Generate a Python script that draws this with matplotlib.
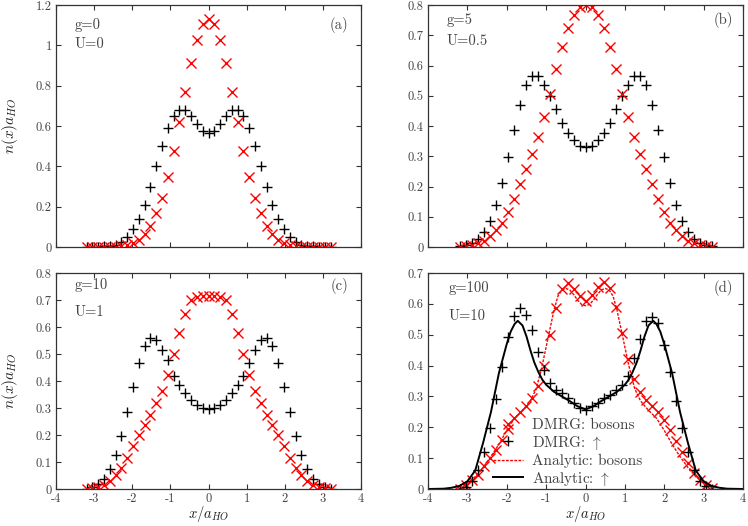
import numpy as np
import matplotlib
matplotlib.use("Agg")
import matplotlib.pyplot as plt

plt.rcParams['font.family'] = ['cmr10', 'DejaVu Serif']
plt.rcParams['mathtext.fontset'] = 'cm'
plt.rcParams['axes.formatter.use_mathtext'] = True
plt.rcParams['axes.unicode_minus'] = False

# lattice sites (43 sites)
x_sites = np.linspace(-3.2, 3.2, 43)

# panel (a) g=0, U=0
a_up = [0.0, 0.0, 0.001, 0.003, 0.006, 0.012, 0.025, 0.05, 0.09, 0.14, 0.21, 0.30, 0.40, 0.50, 0.59, 0.65,
        0.68, 0.68, 0.65, 0.61, 0.575, 0.565, 0.575, 0.61, 0.65, 0.68, 0.68, 0.65, 0.59, 0.50, 0.40, 0.30,
        0.21, 0.14, 0.09, 0.05, 0.025, 0.012, 0.006, 0.003, 0.001, 0.0, 0.0]
a_bos = [0.0, 0.0, 0.0, 0.0, 0.001, 0.002, 0.004, 0.009, 0.018, 0.035, 0.062, 0.104, 0.167, 0.245, 0.349,
         0.478, 0.618, 0.77, 0.91, 1.026, 1.105, 1.13, 1.105, 1.026, 0.91, 0.77, 0.618, 0.478, 0.349, 0.245,
         0.167, 0.104, 0.062, 0.035, 0.018, 0.009, 0.004, 0.002, 0.001, 0.0, 0.0, 0.0, 0.0]

# panel (b) g=5, U=0.5
b_up = [0.002, 0.005, 0.012, 0.025, 0.05, 0.086, 0.14, 0.212, 0.296, 0.387, 0.47, 0.535, 0.565, 0.565,
        0.537, 0.50, 0.455, 0.41, 0.378, 0.355, 0.335, 0.33, 0.335, 0.355, 0.378, 0.41, 0.455, 0.50, 0.537,
        0.565, 0.565, 0.535, 0.47, 0.387, 0.296, 0.212, 0.14, 0.086, 0.05, 0.025, 0.012, 0.005, 0.002]
b_bos = [0.001, 0.003, 0.006, 0.012, 0.02, 0.035, 0.055, 0.08, 0.117, 0.158, 0.209, 0.257, 0.307, 0.365,
         0.43, 0.505, 0.587, 0.662, 0.725, 0.768, 0.792, 0.80, 0.792, 0.768, 0.725, 0.662, 0.587, 0.505,
         0.43, 0.365, 0.307, 0.257, 0.209, 0.158, 0.117, 0.08, 0.055, 0.035, 0.02, 0.012, 0.006, 0.003, 0.001]

# panel (c) g=10, U=1
c_up = [0.001, 0.006, 0.017, 0.038, 0.075, 0.127, 0.197, 0.285, 0.377, 0.467, 0.528, 0.56, 0.553, 0.516,
        0.478, 0.42, 0.386, 0.355, 0.33, 0.31, 0.30, 0.295, 0.30, 0.31, 0.33, 0.355, 0.386, 0.42, 0.467,
        0.516, 0.553, 0.56, 0.528, 0.467, 0.377, 0.285, 0.197, 0.127, 0.075, 0.038, 0.017, 0.006, 0.001]
c_bos = [0.001, 0.003, 0.007, 0.016, 0.028, 0.053, 0.078, 0.115, 0.158, 0.20, 0.238, 0.275, 0.318, 0.362,
         0.423, 0.50, 0.578, 0.647, 0.70, 0.712, 0.714, 0.714, 0.714, 0.712, 0.70, 0.647, 0.578, 0.50,
         0.423, 0.362, 0.318, 0.275, 0.238, 0.20, 0.158, 0.115, 0.078, 0.053, 0.028, 0.016, 0.007, 0.003, 0.001]

# panel (d) g=100, U=10
d_up = [0.0, 0.008, 0.025, 0.063, 0.12, 0.198, 0.292, 0.394, 0.492, 0.56, 0.587, 0.565, 0.516, 0.444,
        0.387, 0.343, 0.322, 0.311, 0.295, 0.279, 0.262, 0.257, 0.268, 0.279, 0.295, 0.306, 0.322, 0.337,
        0.365, 0.425, 0.485, 0.543, 0.556, 0.538, 0.468, 0.38, 0.284, 0.197, 0.121, 0.062, 0.025, 0.009, 0.0]
d_bos = [0.0, 0.012, 0.03, 0.045, 0.073, 0.10, 0.127, 0.16, 0.195, 0.23, 0.25, 0.268, 0.295, 0.333, 0.40,
         0.50, 0.587, 0.648, 0.667, 0.648, 0.625, 0.61, 0.63, 0.655, 0.672, 0.65, 0.59, 0.505, 0.42, 0.355,
         0.315, 0.288, 0.268, 0.248, 0.225, 0.19, 0.155, 0.12, 0.085, 0.052, 0.03, 0.012, 0.002]

# analytic curves for (d)
an_bos_x = [-3.3, -3.0, -2.8, -2.6, -2.4, -2.2, -2.0, -1.8, -1.6, -1.4, -1.25, -1.1, -1.0, -0.9, -0.8,
            -0.7, -0.6, -0.5, -0.4, -0.3, -0.2, -0.1, 0.0, 0.1, 0.2, 0.3, 0.4, 0.5, 0.6, 0.7, 0.8, 0.9,
            1.0, 1.1, 1.25, 1.4, 1.6, 1.8, 2.0, 2.2, 2.4, 2.6, 2.8, 3.0, 3.3]
an_bos_y = [0.0, 0.02, 0.04, 0.07, 0.105, 0.145, 0.19, 0.23, 0.255, 0.285, 0.325, 0.40, 0.46, 0.52, 0.58,
            0.625, 0.645, 0.65, 0.645, 0.63, 0.612, 0.598, 0.594, 0.598, 0.612, 0.63, 0.645, 0.65, 0.645,
            0.625, 0.58, 0.52, 0.46, 0.40, 0.325, 0.285, 0.255, 0.23, 0.19, 0.145, 0.105, 0.07, 0.04, 0.02, 0.0]
an_up_x = [-4.0, -3.6, -3.4, -3.2, -3.0, -2.8, -2.6, -2.4, -2.2, -2.0, -1.9, -1.8, -1.72, -1.6, -1.5, -1.4,
           -1.3, -1.2, -1.1, -1.0, -0.8, -0.6, -0.4, -0.2, 0.0, 0.2, 0.4, 0.6, 0.8, 1.0, 1.1, 1.2, 1.3, 1.4,
           1.5, 1.6, 1.72, 1.8, 1.9, 2.0, 2.2, 2.4, 2.6, 2.8, 3.0, 3.2, 3.4, 3.6, 4.0]
an_up_y = [0.0, 0.001, 0.004, 0.01, 0.025, 0.06, 0.15, 0.25, 0.375, 0.47, 0.51, 0.535, 0.545, 0.53, 0.495,
           0.45, 0.41, 0.38, 0.355, 0.338, 0.315, 0.30, 0.285, 0.268, 0.258, 0.268, 0.285, 0.30, 0.315,
           0.338, 0.355, 0.38, 0.41, 0.45, 0.495, 0.53, 0.545, 0.535, 0.51, 0.47, 0.375, 0.25, 0.15, 0.06,
           0.025, 0.01, 0.004, 0.001, 0.0]

panels = [
    dict(up=a_up, bos=a_bos, ymax=1.2, yticks=[0, 0.2, 0.4, 0.6, 0.8, 1.0, 1.2],
         ylabels=['0', '0.2', '0.4', '0.6', '0.8', '1', '1.2'], g='g=0', U='U=0', tag='(a)',
         pos=[56, 5, 305, 242], gy=0.917, uy=0.839, tagx=0.957, tagy=0.917, gx=0.062),
    dict(up=b_up, bos=b_bos, ymax=0.8, yticks=[0, 0.1, 0.2, 0.3, 0.4, 0.5, 0.6, 0.7, 0.8],
         ylabels=['0', '0.1', '0.2', '0.3', '0.4', '0.5', '0.6', '0.7', '0.8'], g='g=5', U='U=0.5', tag='(b)',
         pos=[428, 5, 315, 242], gy=0.938, uy=0.852, tagx=0.968, tagy=0.938, gx=0.059),
    dict(up=c_up, bos=c_bos, ymax=0.8, yticks=[0, 0.1, 0.2, 0.3, 0.4, 0.5, 0.6, 0.7, 0.8],
         ylabels=['0', '0.1', '0.2', '0.3', '0.4', '0.5', '0.6', '0.7', '0.8'], g='g=10', U='U=1', tag='(c)',
         pos=[56, 273, 305, 216], gy=0.944, uy=0.818, tagx=0.960, tagy=0.938, gx=0.062),
    dict(up=d_up, bos=d_bos, ymax=0.7, yticks=[0, 0.1, 0.2, 0.3, 0.4, 0.5, 0.6, 0.7],
         ylabels=['0', '0.1', '0.2', '0.3', '0.4', '0.5', '0.6', '0.7'], g='g=100', U='U=10', tag='(d)',
         pos=[428, 273, 315, 216], gy=0.929, uy=0.798, tagx=0.968, tagy=0.929, gx=0.064),
]

W, H = 748, 526
fig = plt.figure(figsize=(W / 100, H / 100), dpi=100)
txtc = '#444444'
xt = [-4, -3, -2, -1, 0, 1, 2, 3, 4]

for i, p in enumerate(panels):
    l, t, w, h = p['pos']
    ax = fig.add_axes([l / W, 1 - (t + h) / H, w / W, h / H])
    if i < 3:
        ax.plot(x_sites, p['up'], '+', color='black', ms=7, mew=1.0, ls='none')
        ax.plot(x_sites, p['bos'], 'x', color='red', ms=7.5, mew=1.0, ls='none')
    else:
        h1, = ax.plot(x_sites, p['bos'], 'x', color='red', ms=7.5, mew=1.0, ls='none', label='DMRG: bosons')
        h2, = ax.plot(x_sites, p['up'], '+', color='black', ms=7, mew=1.0, ls='none', label=r'DMRG: $\uparrow$')
        h3, = ax.plot(an_bos_x, an_bos_y, color='red', lw=1.0, ls=(0, (2, 1)), label='Analytic: bosons')
        h4, = ax.plot(an_up_x, an_up_y, color='black', lw=1.4, label=r'Analytic: $\uparrow$')
        leg = ax.legend(handles=[h1, h2, h3, h4], loc='lower left', bbox_to_anchor=(0.205, 0.006),
                        frameon=False, fontsize=11, handlelength=2.0, handletextpad=0.55,
                        labelspacing=0.12, borderpad=0, borderaxespad=0)
        for tx in leg.get_texts():
            tx.set_color(txtc)
    ax.set_xlim(-4, 4)
    ax.set_ylim(0, p['ymax'])
    ax.set_yticks(p['yticks'], p['ylabels'])
    if i >= 2:
        ax.set_xticks(xt, [str(v) for v in xt])
        # x label placed from the figure bottom so it stays inside the canvas
        fig.text((l + w / 2) / W, 2 / H, r'$x/a_{HO}$', fontsize=10.5, color='#222222',
                 ha='center', va='bottom')
    else:
        ax.set_xticks(xt, [''] * len(xt))
    if i % 2 == 0:
        ax.set_ylabel(r'$n(x)a_{HO}$', fontsize=11, color='#222222')
        ax.yaxis.set_label_coords(-0.118, 0.5)
    ax.tick_params(direction='in', top=True, right=True, length=3.5, width=0.8,
                   labelsize=9, labelcolor=txtc, color='#333333', pad=3)
    for s in ax.spines.values():
        s.set_color('#333333')
        s.set_linewidth(0.9)
    ax.text(p['gx'], p['gy'], p['g'], transform=ax.transAxes, fontsize=10.5, color=txtc, va='center', ha='left')
    ax.text(p['gx'], p['uy'], p['U'], transform=ax.transAxes, fontsize=10.5, color=txtc, va='center', ha='left')
    ax.text(p['tagx'], p['tagy'], p['tag'], transform=ax.transAxes, fontsize=10.5, color=txtc, va='center', ha='right')

fig.savefig('out.png', dpi=100)
